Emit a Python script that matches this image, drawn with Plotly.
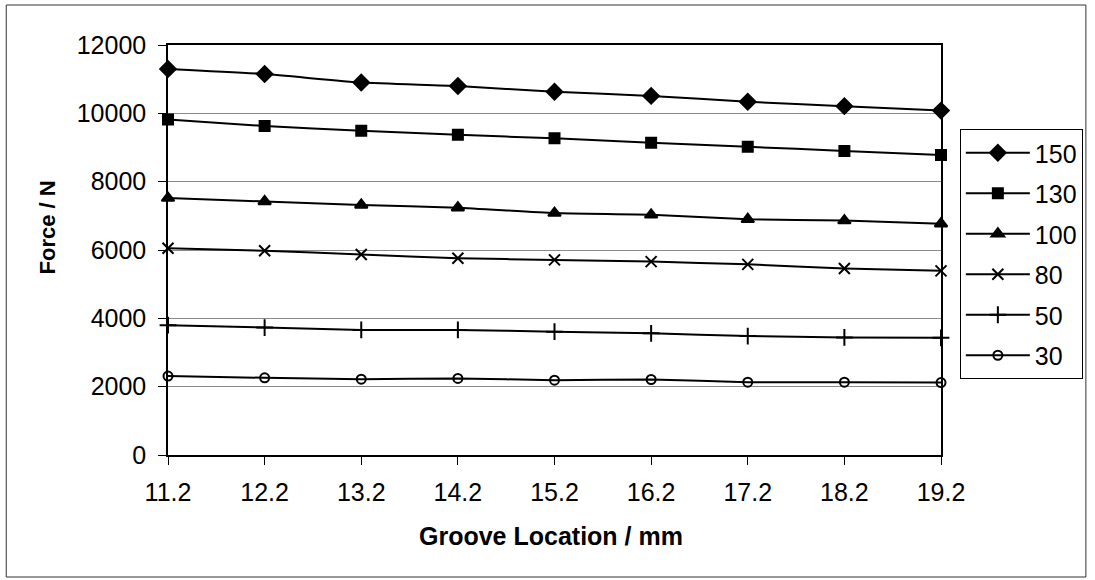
import plotly.graph_objects as go

groove = [11.2, 12.2, 13.2, 14.2, 15.2, 16.2, 17.2, 18.2, 19.2]
tick_labels = ["11.2", "12.2", "13.2", "14.2", "15.2", "16.2", "17.2", "18.2", "19.2"]
y_ticks = [0, 2000, 4000, 6000, 8000, 10000, 12000]

f150 = [11300, 11150, 10900, 10800, 10630, 10510, 10340, 10210, 10080]
f130 = [9820, 9630, 9490, 9370, 9270, 9140, 9020, 8900, 8780]
f100 = [7520, 7420, 7320, 7240, 7080, 7030, 6900, 6860, 6770]
f80 = [6050, 5980, 5870, 5760, 5710, 5660, 5580, 5460, 5390]
f50 = [3800, 3730, 3660, 3660, 3610, 3560, 3480, 3440, 3430]
f30 = [2310, 2260, 2220, 2240, 2190, 2210, 2130, 2130, 2120]

series_names = ["150", "130", "100", "80", "50", "30"]
series_values = [f150, f130, f100, f80, f50, f30]
symbols = ["diamond", "square", "triangle-up", "x-thin-open", "cross-thin-open", "circle-open"]
sizes = [12, 10, 11, 11, 12, 9]

FONT = "Arial, Liberation Sans, sans-serif"

fig = go.Figure()
for name, vals, sym, sz in zip(series_names, series_values, symbols, sizes):
    fig.add_trace(go.Scatter(
        x=groove, y=vals, name=name, mode="lines+markers",
        line=dict(color="black", width=2, shape="spline", smoothing=0.5),
        marker=dict(symbol=sym, size=sz, color="black",
                    line=dict(color="black", width=2)),
        cliponaxis=False, legendgroup=name,
    ))

W, H = 1095, 580
L, R, T, B = 168, 947, 45, 455

def px(xp):
    return (xp - L) / (R - L)

def py(yp):
    return (B - yp) / (B - T)

fig.update_layout(
    width=W, height=H,
    margin=dict(l=L, r=W - R, t=T, b=H - B, pad=0),
    paper_bgcolor="white", plot_bgcolor="white",
    font=dict(family=FONT, size=25, color="black"),
    showlegend=True,
    legend=dict(
        x=px(966), y=py(129), xanchor="left", yanchor="top",
        bordercolor="black", borderwidth=1, bgcolor="white",
        font=dict(family=FONT, size=25, color="black"),
        tracegroupgap=5, itemwidth=64,
    ),
    xaxis=dict(
        range=[groove[0], groove[-1]], tickvals=groove, ticktext=tick_labels,
        showgrid=False, zeroline=False,
        showline=True, linecolor="black", linewidth=1.5, mirror=True,
        ticks="outside", ticklen=8, tickcolor="black", tickwidth=1,
        ticklabelstandoff=6,
        tickfont=dict(family=FONT, size=25, color="black"),
    ),
    yaxis=dict(
        range=[0, 12000], tickvals=y_ticks, ticktext=[str(v) for v in y_ticks],
        showgrid=True, gridcolor="#8a8a8a", gridwidth=1, zeroline=False,
        showline=True, linecolor="black", linewidth=1.5, mirror=True,
        ticks="outside", ticklen=8, tickcolor="black", tickwidth=1,
        ticklabelstandoff=7,
        tickfont=dict(family=FONT, size=25, color="black"),
    ),
    annotations=[
        dict(text="<b>Groove Location / mm</b>", xref="paper", yref="paper",
             x=px(554), y=py(536), xanchor="center", yanchor="middle",
             showarrow=False, font=dict(family=FONT, size=25, color="black")),
        dict(text="<b>Force / N</b>", xref="paper", yref="paper",
             x=px(47.5), y=py(227), xanchor="center", yanchor="middle",
             textangle=-90, showarrow=False,
             font=dict(family=FONT, size=22, color="black")),
    ],
    shapes=[
        dict(type="rect", xref="paper", yref="paper",
             x0=px(5), x1=px(1093), y0=py(577), y1=py(5),
             line=dict(color="#333333", width=1), layer="below"),
    ],
)

fig.write_html("out.html", config={"displayModeBar": False},
               post_script="document.body.style.margin='0px';")
